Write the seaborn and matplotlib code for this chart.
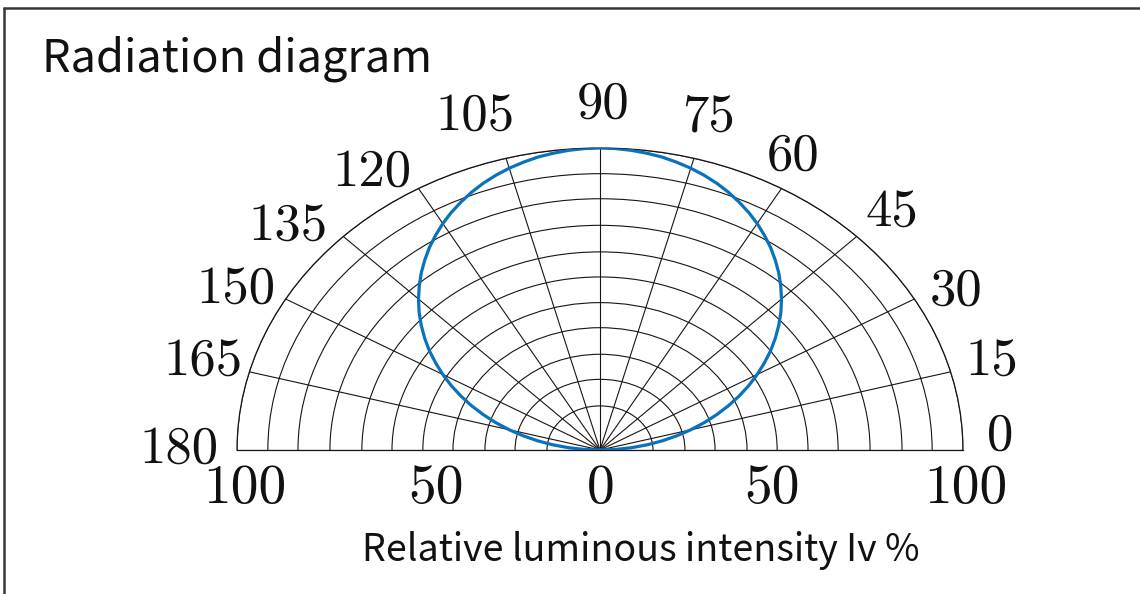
import numpy as np
import pandas as pd
import seaborn as sns
import matplotlib.pyplot as plt
from matplotlib.lines import Line2D

# emission angle (deg) and relative luminous intensity (%)
angle_deg = [0, 2.5, 5, 7.5, 10, 12.5, 15, 17.5, 20, 22.5, 25, 27.5, 30, 32.5, 35, 37.5,
             40, 42.5, 45, 47.5, 50, 52.5, 55, 57.5, 60, 62.5, 65, 67.5, 70, 72.5, 75, 77.5,
             80, 82.5, 85, 87.5, 90, 92.5, 95, 97.5, 100, 102.5, 105, 107.5, 110, 112.5,
             115, 117.5, 120, 122.5, 125, 127.5, 130, 132.5, 135, 137.5, 140, 142.5, 145,
             147.5, 150, 152.5, 155, 157.5, 160, 162.5, 165, 167.5, 170, 172.5, 175, 177.5, 180]
intensity = [0, 4.4, 8.7, 13.1, 17.4, 21.6, 25.9, 30.1, 34.2, 38.3, 42.3, 46.2, 50, 53.7,
             57.4, 60.9, 64.3, 67.6, 70.7, 73.7, 76.6, 79.3, 81.9, 84.3, 86.6, 88.7, 90.6,
             92.4, 94, 95.4, 96.6, 97.6, 98.5, 99.1, 99.6, 99.9, 100, 99.9, 99.6, 99.1, 98.5,
             97.6, 96.6, 95.4, 94, 92.4, 90.6, 88.7, 86.6, 84.3, 81.9, 79.3, 76.6, 73.7, 70.7,
             67.6, 64.3, 60.9, 57.4, 53.7, 50, 46.2, 42.3, 38.3, 34.2, 30.1, 25.9, 21.6, 17.4,
             13.1, 8.7, 4.4, 0]

# angle grid and labels
theta_ticks = [0, 15, 30, 45, 60, 75, 90, 105, 120, 135, 150, 165, 180]
theta_labels = [str(a) for a in theta_ticks]
ring_levels = [14.6, 23.4, 31.7, 40.5, 48.8, 57.3, 65.6, 74.4, 83.2, 91.5, 100]
scale_labels = ['100', '50', '0', '50', '100']

# where the labels sit (px offsets from the outer ring, signed radius for the scale)
theta_lab_off = [(37, 14), (41, 10), (42, 8), (35, 23), (12, 32), (15, 41), (3, 44),
                 (-31, 41), (-47, 16), (-55, 9), (-50, 9), (-46, 10), (-58, 1)]
scale_pos = [-97.8, -45.2, 0.3, 47.4, 100.8]

sns.set_style('white')
num_font = 'cmr10'
txt_font = ['Noto Sans CJK SC', 'DejaVu Sans']
px = 0.72   # px -> pt at dpi 100

fig = plt.figure(figsize=(11.4, 5.94), dpi=100)
ax = fig.add_axes([237/1140, -7/594, 726/1140, 604/594], projection='polar')
ax.set_thetamin(0)
ax.set_thetamax(180)
ax.set_aspect('auto')
ax.set_rlim(0, 100)

df = pd.DataFrame({'theta': np.deg2rad(angle_deg), 'r': intensity})
sns.lineplot(data=df, x='theta', y='r', ax=ax, color='#0a72ba', lw=2.3, sort=False, zorder=5)
ax.set_xlabel('')
ax.set_ylabel('')

ax.set_thetagrids(theta_ticks, [''] * len(theta_ticks))
ax.set_rgrids(ring_levels, labels=[])
ax.grid(True, color='#1a1311', lw=0.8)
for s in ax.spines.values():
    s.set_color('#1a1311')
    s.set_linewidth(0.9)

   # angle labels round the outer ring
for a, lab, (dx, dy) in zip(theta_ticks, theta_labels, theta_lab_off):
    ax.annotate(lab, xy=(np.deg2rad(a), 100), xytext=(dx * px, dy * px),
                textcoords='offset points', ha='center', va='center',
                fontsize=38, family=num_font, color='#111', annotation_clip=False)

   # scale under the baseline
for lab, p in zip(scale_labels, scale_pos):
    th = 0 if p >= 0 else np.pi
    ax.annotate(lab, xy=(th, abs(p)), xytext=(0, -39.5 * px), textcoords='offset points',
                ha='center', va='center', fontsize=40, family=num_font, color='#111',
                annotation_clip=False)

fig.text(42/1140, 1 - 72/594, 'Radiation diagram', fontsize=32.5, family=txt_font,
         ha='left', va='baseline', color='#111')
fig.text(641/1140, 1 - 561/594, 'Relative luminous intensity Iv %', fontsize=27,
         family=txt_font, ha='center', va='baseline', color='#111')

   # frame lines (top and left only)
fig.add_artist(Line2D([4/1140, 4/1140], [0, 1 - 8/594], transform=fig.transFigure,
                      color='#3b3634', lw=1.8))
fig.add_artist(Line2D([4/1140, 1], [1 - 8/594, 1 - 8/594], transform=fig.transFigure,
                      color='#3b3634', lw=1.8))

fig.savefig('out.png', dpi=100)
